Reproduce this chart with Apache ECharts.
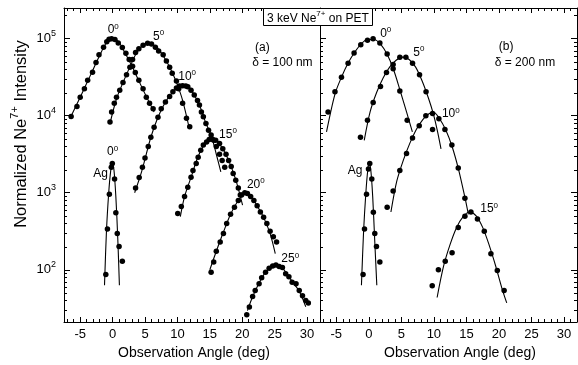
<!DOCTYPE html>
<html><head><meta charset="utf-8">
<script src="https://cdn.jsdelivr.net/npm/echarts@6/dist/echarts.min.js"></script>
<style>html,body{margin:0;padding:0;background:#fff}#c{width:578px;height:365px}</style>
</head><body><div id="c"></div>
<script>
// ---------- tick labels ----------
const xMajorTicks = [-5, 0, 5, 10, 15, 20, 25, 30];
const xMinorTicks = [-7,-6,-5,-4,-3,-2,-1,0,1,2,3,4,5,6,7,8,9,10,11,12,13,14,15,16,17,18,19,20,21,22,23,24,25,26,27,28,29,30,31,32];
const yMinorTicks = [30,40,50,60,70,80,90,200,300,400,500,600,700,800,900,2000,3000,4000,5000,6000,7000,8000,9000,20000,30000,40000,50000,60000,70000,80000,90000,200000];

// ---------- panel (a): delta = 100 nm ----------
const a0Dots = [[-6.4,9800],[-5.5,13200],[-5.0,17400],[-4.35,22400],[-3.85,28800],[-3.1,36700],[-2.56,49000],[-2.1,61700],[-1.4,77600],[-0.9,91200],[-0.55,98500],[-0.15,100000],[0.36,97700],[0.87,88100],[1.5,76700],[2.05,64600],[2.56,53700],[3.08,43700],[3.5,36300],[4.05,28800],[4.7,22400],[5.2,17400],[5.7,14500],[6.25,12300]];
const a5Dots = [[-0.4,8300],[-0.15,11200],[0.26,14500],[0.6,17400],[1.1,21400],[1.6,26900],[2.15,33900],[2.67,42700],[3.08,53700],[3.54,66100],[4.05,74100],[4.7,82200],[5.4,87100],[6.0,85100],[6.6,77600],[7.1,69200],[7.8,61700],[8.3,51300],[8.8,42700],[9.2,35500],[9.85,28200],[10.2,22400],[10.8,14500],[11.4,9300],[11.9,7200]];
const a10Dots = [[3.54,1150],[4.1,1580],[4.6,2140],[5.0,2820],[5.5,3980],[5.9,5250],[6.4,7080],[7.0,9550],[7.5,12300],[8.15,15100],[8.8,17800],[9.3,20400],[9.85,22900],[10.3,24300],[10.8,24500],[11.3,24300],[11.6,23700],[12.1,21400],[12.6,18600],[13.1,15800],[13.4,13800],[13.7,11200],[14.0,9660],[14.4,7940],[14.8,6460],[15.2,5620],[15.6,4790],[16.0,3980],[16.5,3160],[16.9,2630],[17.3,2140]];
const a15Dots = [[10.05,537],[10.6,661],[11.1,891],[11.6,1175],[12.1,1585],[12.4,1950],[12.9,2400],[13.2,2880],[13.6,3550],[14.0,4170],[14.5,4570],[14.9,4900],[15.4,4950],[15.9,4790],[16.5,4370],[17.0,3720],[17.5,3160],[17.9,2630],[18.3,2190],[18.6,1780],[19.0,1450],[19.4,1150],[19.7,933]];
const a20Dots = [[15.2,93],[15.6,126],[16.0,174],[16.6,229],[17.1,295],[17.6,398],[18.2,525],[18.8,646],[19.4,794],[19.9,933],[20.4,1000],[20.8,977],[21.3,891],[21.8,794],[22.3,676],[22.8,562],[23.3,479],[23.8,398],[24.3,316],[24.8,269],[25.3,229]];
const a25Dots = [[20.7,26],[21.1,33],[21.6,45],[22.0,54],[22.6,66],[23.0,79],[23.6,93],[24.15,105],[24.7,112],[25.2,115],[25.7,110],[26.2,107],[26.7,89],[27.2,81],[27.7,69],[28.3,66],[28.8,54],[29.3,46],[29.8,40],[30.2,37]];
const aAgDots = [[-1.05,87],[-0.8,339],[-0.5,955],[-0.2,2140],[-0.05,2400],[0.3,1510],[0.5,550],[0.72,295],[1.0,200],[1.5,129]];

const a0Fit = [[-6.6,9120],[-5,17400],[-3.5,32400],[-2,60300],[-1,87100],[0,100000],[1,89100],[2,63100],[3,43700],[4,28800],[5.2,17800],[6.4,11200]];
const a5Fit = [[-0.4,7940],[0.6,16600],[1.6,26900],[2.7,43700],[3.6,63100],[4.5,79400],[5.4,87100],[6.3,83200],[7.2,70800],[8.3,51300],[9.2,36300],[10.0,25100],[10.8,15800],[11.85,6760]];
const a10Fit = [[3.4,1000],[4.5,1910],[5.9,5250],[7.0,9550],[8.15,15100],[9.3,20400],[10.3,24000],[11.0,24500],[11.8,23400],[12.6,18600],[13.4,13800],[14.4,7940],[15.2,5620],[16.0,3160],[16.7,1860]];
const a15Fit = [[10.45,490],[11.1,891],[12.1,1580],[13.1,2820],[14.0,4070],[14.9,4900],[15.4,5010],[16.0,4790],[17.0,3720],[17.9,2630],[19.0,1480],[20.05,692]];
const a20Fit = [[15.0,100],[16.0,174],[17.1,309],[18.2,525],[19.3,776],[20.3,977],[20.8,989],[21.5,871],[22.3,676],[23.3,479],[24.3,295],[25.1,162]];
const a25Fit = [[20.8,29.5],[21.6,44.7],[22.6,67.6],[23.6,93.3],[24.6,112],[25.3,117],[26.0,110],[26.8,91.2],[27.7,70.8],[28.8,52.5],[29.8,33.1]];
const aAgFit = [[-1.25,63],[-0.95,316],[-0.6,1000],[-0.3,1910],[-0.05,2400],[0.2,2000],[0.5,891],[0.8,251],[1.05,63]];

// ---------- panel (b): delta = 200 nm ----------
const b0Dots = [[-6.26,11200],[-5.2,20400],[-4.2,31600],[-3.18,47900],[-2.26,65300],[-1.23,83200],[-0.2,95500],[0.66,100000],[1.7,88100],[2.82,63100],[3.74,40700],[4.77,20900],[5.9,8700]];
const b5Dots = [[-1.28,5250],[-0.2,8710],[0.67,14800],[1.8,24000],[2.72,36300],[3.74,46200],[4.77,57500],[5.7,57500],[6.72,47900],[7.8,33900],[8.8,20400],[9.8,6600]];
const b10Dots = [[2.82,646],[3.74,1050],[4.77,1950],[5.8,3240],[6.72,5130],[7.75,7410],[8.77,10000],[9.8,10700],[10.77,9120],[11.7,6610],[12.77,4170],[13.75,2090],[14.77,851]];
const b15Dots = [[9.75,62],[10.7,100],[11.75,129],[12.8,166],[13.75,355],[14.77,495],[15.7,562],[16.7,457],[17.75,316],[18.77,162],[19.75,98],[20.8,54]];
const bAgDots = [[-0.88,87],[-0.66,339],[-0.35,955],[-0.05,2040],[0.15,2400],[0.46,1510],[0.7,560],[0.92,295],[1.18,200],[1.7,126]];

const b0Fit = [[-6.5,6170],[-5.2,19100],[-4.2,31600],[-3.2,47900],[-2.2,66100],[-1.2,85100],[-0.2,97700],[0.8,97700],[1.8,85100],[2.8,63100],[3.8,39800],[4.8,21400],[5.8,11200],[6.7,6170]];
const b5Fit = [[-0.7,4790],[0.2,11200],[1.2,20000],[2.2,30900],[3.2,42700],[4.2,52500],[5.2,57500],[6.2,53700],[7.2,42700],[8.2,28200],[9.2,16600],[9.9,10700],[10.5,6610],[11.1,3720]];
const b10Fit = [[3.4,562],[4.3,1410],[5.3,2630],[6.3,4370],[7.3,6610],[8.3,8910],[9.3,10700],[10.0,11000],[10.8,9330],[11.8,6610],[12.8,3980],[13.8,2000],[14.8,851],[15.3,525]];
const b15Fit = [[10.5,43.7],[11.5,112],[12.5,214],[13.5,355],[14.5,490],[15.5,562],[16.5,501],[17.5,355],[18.5,209],[19.5,112],[20.5,56.2],[21.2,37.2]];
const bAgFit = [[-1.13,63],[-0.8,316],[-0.45,1000],[-0.15,2000],[0.05,2450],[0.3,2000],[0.6,891],[0.9,251],[1.23,63]];

// ---------- annotations [x, y, text] ----------
const aLabels = [[0.1,129000,'{b|0}{s|0}'],[7.1,107000,'{b|5}{s|0}'],[11.5,32400,'{b|10}{s|0}'],[17.8,5750,'{b|15}{s|0}'],[22.1,1290,'{b|20}{s|0}'],[27.4,138,'{b|25}{s|0}'],[0.0,3390,'{b|0}{s|0}'],[-1.85,1780,'{b|Ag}'],[23.1,75900,'{b|(a)}'],[26.2,49000,'{b|δ = 100 nm}']];
const bLabels = [[2.6,117000,'{b|0}{s|0}'],[7.7,66100,'{b|5}{s|0}'],[12.6,10500,'{b|10}{s|0}'],[18.5,617,'{b|15}{s|0}'],[-2.1,1910,'{b|Ag}'],[21.1,77600,'{b|(b)}'],[24.0,49000,'{b|δ = 200 nm}']];

// ---------- chart ----------
const FONT = 'Liberation Sans, Arial, Helvetica, sans-serif';
const BLACK = '#000';
const labelRich = {
  b: {fontSize: 12, lineHeight: 15, fontFamily: FONT, color: BLACK, textBorderWidth: 0},
  s: {fontSize: 8, lineHeight: 8, verticalAlign: 'top', fontFamily: FONT, color: BLACK, textBorderWidth: 0}
};
const grids = [
  {left: 64, top: 8, width: 256, height: 314, outerBoundsMode: 'none'},
  {left: 320, top: 8, width: 257, height: 314, outerBoundsMode: 'none'}
];

function xAxes(g) {
  const base = {gridIndex: g, type: 'value', min: -7.5, max: 32, splitLine: {show: false}};
  return [
    Object.assign({}, base, {position: 'bottom',
      axisLine: {show: true, onZero: false, lineStyle: {color: BLACK, width: 1}},
      axisTick: {show: true, inside: true, length: 5, customValues: xMajorTicks, lineStyle: {color: BLACK}},
      axisLabel: {show: true, customValues: xMajorTicks, color: BLACK, fontSize: 13, fontFamily: FONT, margin: 6}}),
    Object.assign({}, base, {position: 'bottom', axisLine: {show: false, onZero: false},
      axisTick: {show: true, inside: true, length: 3, customValues: xMinorTicks, lineStyle: {color: BLACK}},
      axisLabel: {show: false}}),
    Object.assign({}, base, {position: 'top',
      axisLine: {show: true, onZero: false, lineStyle: {color: BLACK, width: 1}},
      axisTick: {show: true, inside: true, length: 5, customValues: xMajorTicks, lineStyle: {color: BLACK}},
      axisLabel: {show: false}}),
    Object.assign({}, base, {position: 'top', axisLine: {show: false, onZero: false},
      axisTick: {show: true, inside: true, length: 3, customValues: xMinorTicks, lineStyle: {color: BLACK}},
      axisLabel: {show: false}})
  ];
}
function yAxis(g, pos, labels) {
  return {gridIndex: g, type: 'log', logBase: 10, min: 21, max: 250000, position: pos,
    splitLine: {show: false}, minorTick: {show: false},
    axisLine: {show: true, onZero: false, lineStyle: {color: BLACK, width: 1}},
    axisTick: {show: true, inside: true, length: 6, lineStyle: {color: BLACK}},
    axisLabel: {show: labels, margin: 8, fontFamily: FONT, color: BLACK,
      formatter: function (v) {
        const e = Math.round(Math.log10(v));
        if (Math.abs(v - Math.pow(10, e)) > 1e-6 * v) return '';
        return '{b|10}{s|' + e + '}';
      },
      rich: {
        b: {fontSize: 13, lineHeight: 20, fontFamily: FONT, color: BLACK},
        s: {fontSize: 9, lineHeight: 9, verticalAlign: 'top', fontFamily: FONT, color: BLACK}
      }}
  };
}

const xAxisList = xAxes(0).concat(xAxes(1));
const yAxisList = [yAxis(0, 'left', true), yAxis(1, 'left', false), yAxis(1, 'right', false)];

function dots(data, xi, yi) {
  return {type: 'scatter', xAxisIndex: xi, yAxisIndex: yi, data: data, symbol: 'circle', symbolSize: 5.5,
    itemStyle: {color: BLACK, opacity: 1}, silent: true, z: 3};
}
function fit(data, xi, yi) {
  return {type: 'line', xAxisIndex: xi, yAxisIndex: yi, data: data, smooth: 0.3, showSymbol: false,
    symbol: 'none', lineStyle: {color: BLACK, width: 1.1}, silent: true, z: 2};
}
function labels(data, xi, yi) {
  return {type: 'scatter', xAxisIndex: xi, yAxisIndex: yi, symbolSize: 0, silent: true, z: 4,
    itemStyle: {opacity: 1},
    data: data.map(d => ({value: [d[0], d[1]], t: d[2]})),
    label: {show: true, position: 'inside', color: BLACK, opacity: 1, textBorderWidth: 0, textShadowBlur: 0,
      formatter: p => p.data.t, rich: labelRich}};
}
function minorTicks(xi, yi, both) {
  return {type: 'custom', xAxisIndex: xi, yAxisIndex: yi, silent: true, clip: false, z: 5,
    data: yMinorTicks.map(v => [0, v]), encode: {x: 0, y: 1},
    renderItem: function (params, api) {
      const cs = params.coordSys;
      const y = Math.round(api.coord([0, api.value(1)])[1]) + 0.5;
      const kids = [{type: 'line', shape: {x1: cs.x, y1: y, x2: cs.x + 3, y2: y}, style: {stroke: BLACK, lineWidth: 1}}];
      if (both) kids.push({type: 'line', shape: {x1: cs.x + cs.width - 3, y1: y, x2: cs.x + cs.width, y2: y}, style: {stroke: BLACK, lineWidth: 1}});
      return {type: 'group', children: kids};
    }};
}

const series = [
  fit(a0Fit,0,0), fit(a5Fit,0,0), fit(a10Fit,0,0), fit(a15Fit,0,0), fit(a20Fit,0,0), fit(a25Fit,0,0), fit(aAgFit,0,0),
  dots(a0Dots,0,0), dots(a5Dots,0,0), dots(a10Dots,0,0), dots(a15Dots,0,0), dots(a20Dots,0,0), dots(a25Dots,0,0), dots(aAgDots,0,0),
  labels(aLabels,0,0), minorTicks(0,0,false),
  fit(b0Fit,4,1), fit(b5Fit,4,1), fit(b10Fit,4,1), fit(b15Fit,4,1), fit(bAgFit,4,1),
  dots(b0Dots,4,1), dots(b5Dots,4,1), dots(b10Dots,4,1), dots(b15Dots,4,1), dots(bAgDots,4,1),
  labels(bLabels,4,1), minorTicks(4,1,true)
];

const chart = echarts.init(document.getElementById('c'), null, {renderer: 'canvas'});
chart.setOption({
  animation: false,
  backgroundColor: '#fff',
  title: {
    text: '{b|3 keV Ne}{s|7+}{b| on PET}', left: 263, top: 8,
    borderColor: BLACK, borderWidth: 1, backgroundColor: '#fff', padding: [2, 4, 1, 4],
    textStyle: {fontSize: 12, fontWeight: 'normal', fontFamily: FONT, color: BLACK, rich: {
      b: {fontSize: 12, lineHeight: 18, fontFamily: FONT, color: BLACK},
      s: {fontSize: 8, lineHeight: 8, verticalAlign: 'top', fontFamily: FONT, color: BLACK}
    }}
  },
  grid: grids,
  xAxis: xAxisList,
  yAxis: yAxisList,
  graphic: [
    {type: 'text', x: 194, y: 353, z: 10, style: {text: 'Observation Angle (deg)', fontSize: 14, fontFamily: FONT, fill: BLACK, align: 'center', verticalAlign: 'middle', textAlign: 'center', textVerticalAlign: 'middle'}},
    {type: 'text', x: 460, y: 353, z: 10, style: {text: 'Observation Angle (deg)', fontSize: 14, fontFamily: FONT, fill: BLACK, align: 'center', verticalAlign: 'middle', textAlign: 'center', textVerticalAlign: 'middle'}},
    {type: 'text', x: 21, y: 134, rotation: Math.PI / 2, z: 10, style: {
      text: '{b|Normalized Ne}{s|7+}{b| Intensity}', fontFamily: FONT, fill: BLACK,
      align: 'center', verticalAlign: 'middle', textAlign: 'center', textVerticalAlign: 'middle',
      rich: {
        b: {fontSize: 16.5, lineHeight: 24, fontFamily: FONT, fill: BLACK, color: BLACK},
        s: {fontSize: 11, lineHeight: 11, verticalAlign: 'top', fontFamily: FONT, fill: BLACK, color: BLACK}
      }}}
  ],
  series: series
});
</script></body></html>
